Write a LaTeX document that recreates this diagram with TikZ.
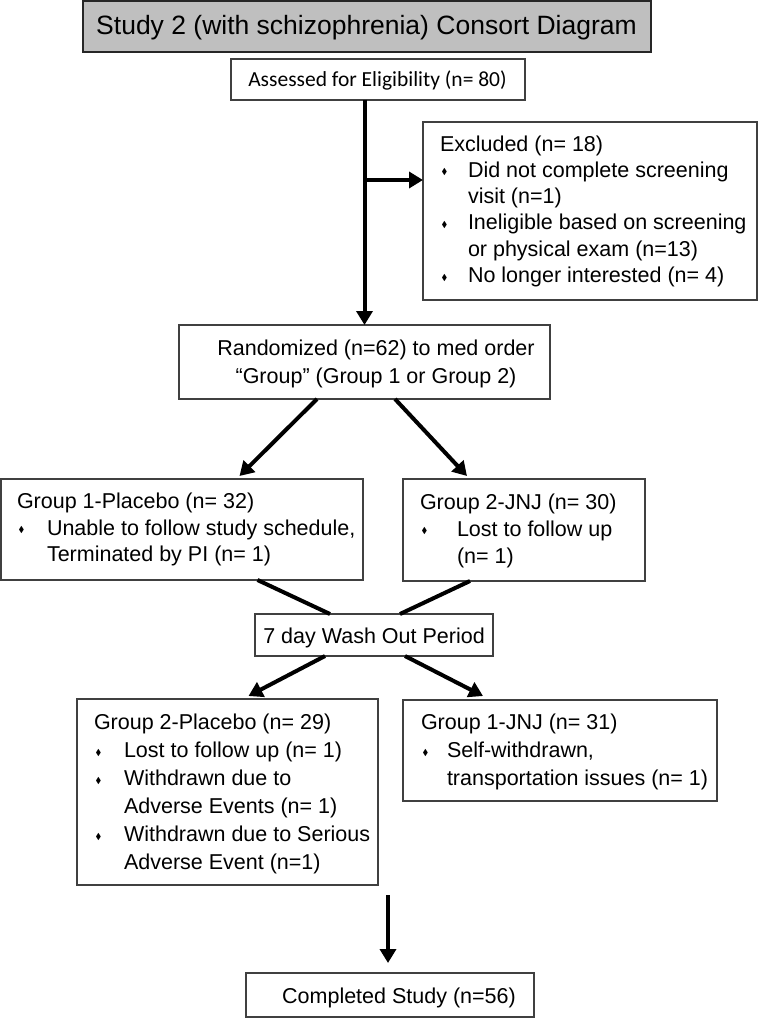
\documentclass[tikz,border=0pt]{standalone}
\usepackage{fontspec}
\setmainfont{Liberation Sans}
\newfontfamily\calib{Carlito}
\usepackage{amssymb}
\usetikzlibrary{arrows.meta,calc}
\newcommand\dia{\raisebox{2.5pt}{\scalebox{0.4}{$\blacklozenge$}}}
\newcommand\bl[1]{\makebox[#1][l]{\hspace{1.5pt}\dia}}
\newcommand\myind[1]{\hspace*{#1}}
\begin{document}
\begin{tikzpicture}[x=1pt,y=-1pt,
 box/.style={draw=black!75, line width=1.5pt, inner sep=0pt, outer sep=0pt, anchor=north west},
 txt/.style={inner sep=0pt, outer sep=0pt, anchor=north west, align=left},
 fs/.style={font=\fontsize{21.5}{#1}\selectfont},
 ln/.style={line width=4pt, black},
 arr/.style={ln, -{Triangle[length=14pt,width=16pt]}}
]
\useasboundingbox (0,0) rectangle (758,1019);
% boxes
\node[box, fill=black!25, draw=black!85, line width=2pt, minimum width=568pt, minimum height=51pt] (title) at (83,1) {};
\node[box, minimum width=294pt, minimum height=41pt] (assess) at (231,59) {};
\node[box, minimum width=334pt, minimum height=178pt] (excl) at (423,122) {};
\node[box, minimum width=371pt, minimum height=74pt] (rand) at (179,325) {};
\node[box, minimum width=362pt, minimum height=101pt] (g1) at (1,479) {};
\node[box, minimum width=242pt, minimum height=102pt] (g2) at (403,479) {};
\node[box, minimum width=238pt, minimum height=42pt] (wash) at (255,614) {};
\node[box, minimum width=301pt, minimum height=186pt] (p2) at (77,699) {};
\node[box, minimum width=314pt, minimum height=101pt] (j1) at (403,700) {};
\node[box, minimum width=288pt, minimum height=44pt] (comp) at (246,973) {};
% texts
\node[anchor=base, inner sep=0pt, font=\fontsize{26.5}{32}\selectfont] (titlet) at (366.5,35) {Study 2 (with schizophrenia) Consort Diagram};
\node[anchor=base, inner sep=0pt, font=\calib\fontsize{21.5}{26}\selectfont] (assesst) at (377.5,87) {Assessed for Eligibility (n= 80)};
\node[txt, fs=26.3] (exclt) at (440,132.6) {\strut Excluded (n= 18)\\
\strut\bl{28pt}Did not complete screening\\
\strut\myind{28pt}visit (n=1)\\
\strut\bl{28pt}Ineligible based on screening\\
\strut\myind{28pt}or physical exam (n=13)\\
\strut\bl{28pt}No longer interested (n= 4)};
\node[txt, fs=28.5, anchor=north, align=center] (randt) at (376,335.5) {\strut Randomized (n=62) to med order\\
\strut “Group” (Group 1 or Group 2)};
\node[txt, fs=26.5] (g1t) at (17,490.4) {\strut Group 1-Placebo (n= 32)\\
\strut\bl{30pt}Unable to follow study schedule,\\
\strut\myind{30pt}Terminated by PI (n= 1)};
\node[txt, fs=27] (g2t) at (420,490.1) {\strut Group 2-JNJ (n= 30)\\
\strut\bl{37pt}Lost to follow up\\
\strut\myind{37pt}(n= 1)};
\node[anchor=base, inner sep=0pt, fs=26] (washt) at (374,643) {7 day Wash Out Period};
\node[txt, fs=28] (p2t) at (94,709.9) {\strut Group 2-Placebo (n= 29)\\
\strut\bl{30pt}Lost to follow up (n= 1)\\
\strut\bl{30pt}Withdrawn due to\\
\strut\myind{30pt}Adverse Events (n= 1)\\
\strut\bl{30pt}Withdrawn due to Serious\\
\strut\myind{30pt}Adverse Event (n=1)};
\node[txt, fs=28] (j1t) at (421,709.9) {\strut Group 1-JNJ (n= 31)\\
\strut\bl{26pt}Self-withdrawn,\\
\strut\myind{26pt}transportation issues (n= 1)};
\node[anchor=base, inner sep=0pt, fs=26] (compt) at (399,1003) {Completed Study (n=56)};
% connectors
\draw[arr] (assess.south -| rand.north) -- (rand.north);
\coordinate (br) at (364.5,180);
\draw[arr] (br) -- (br -| excl.west);
\draw[arr] ([xshift=-47.5pt]rand.south) -- ([xshift=57.5pt,yshift=3pt]g1.north);
\draw[arr] ([xshift=30.5pt]rand.south) -- ([xshift=-57pt,yshift=3pt]g2.north);
\draw[ln] ([xshift=75.5pt]g1.south) -- ([xshift=-44pt]wash.north);
\draw[ln] ([xshift=-54pt]g2.south) -- ([xshift=26pt]wash.north);
\draw[arr] ([xshift=-49pt]wash.south) -- ([xshift=21pt,yshift=3pt]p2.north);
\draw[arr] ([xshift=31pt]wash.south) -- ([xshift=-77pt,yshift=4pt]j1.north);
\coordinate (cs) at (388,895);
\draw[arr] (cs) -- ($(cs |- comp.north)+(0,-10)$);
\end{tikzpicture}
\end{document}
